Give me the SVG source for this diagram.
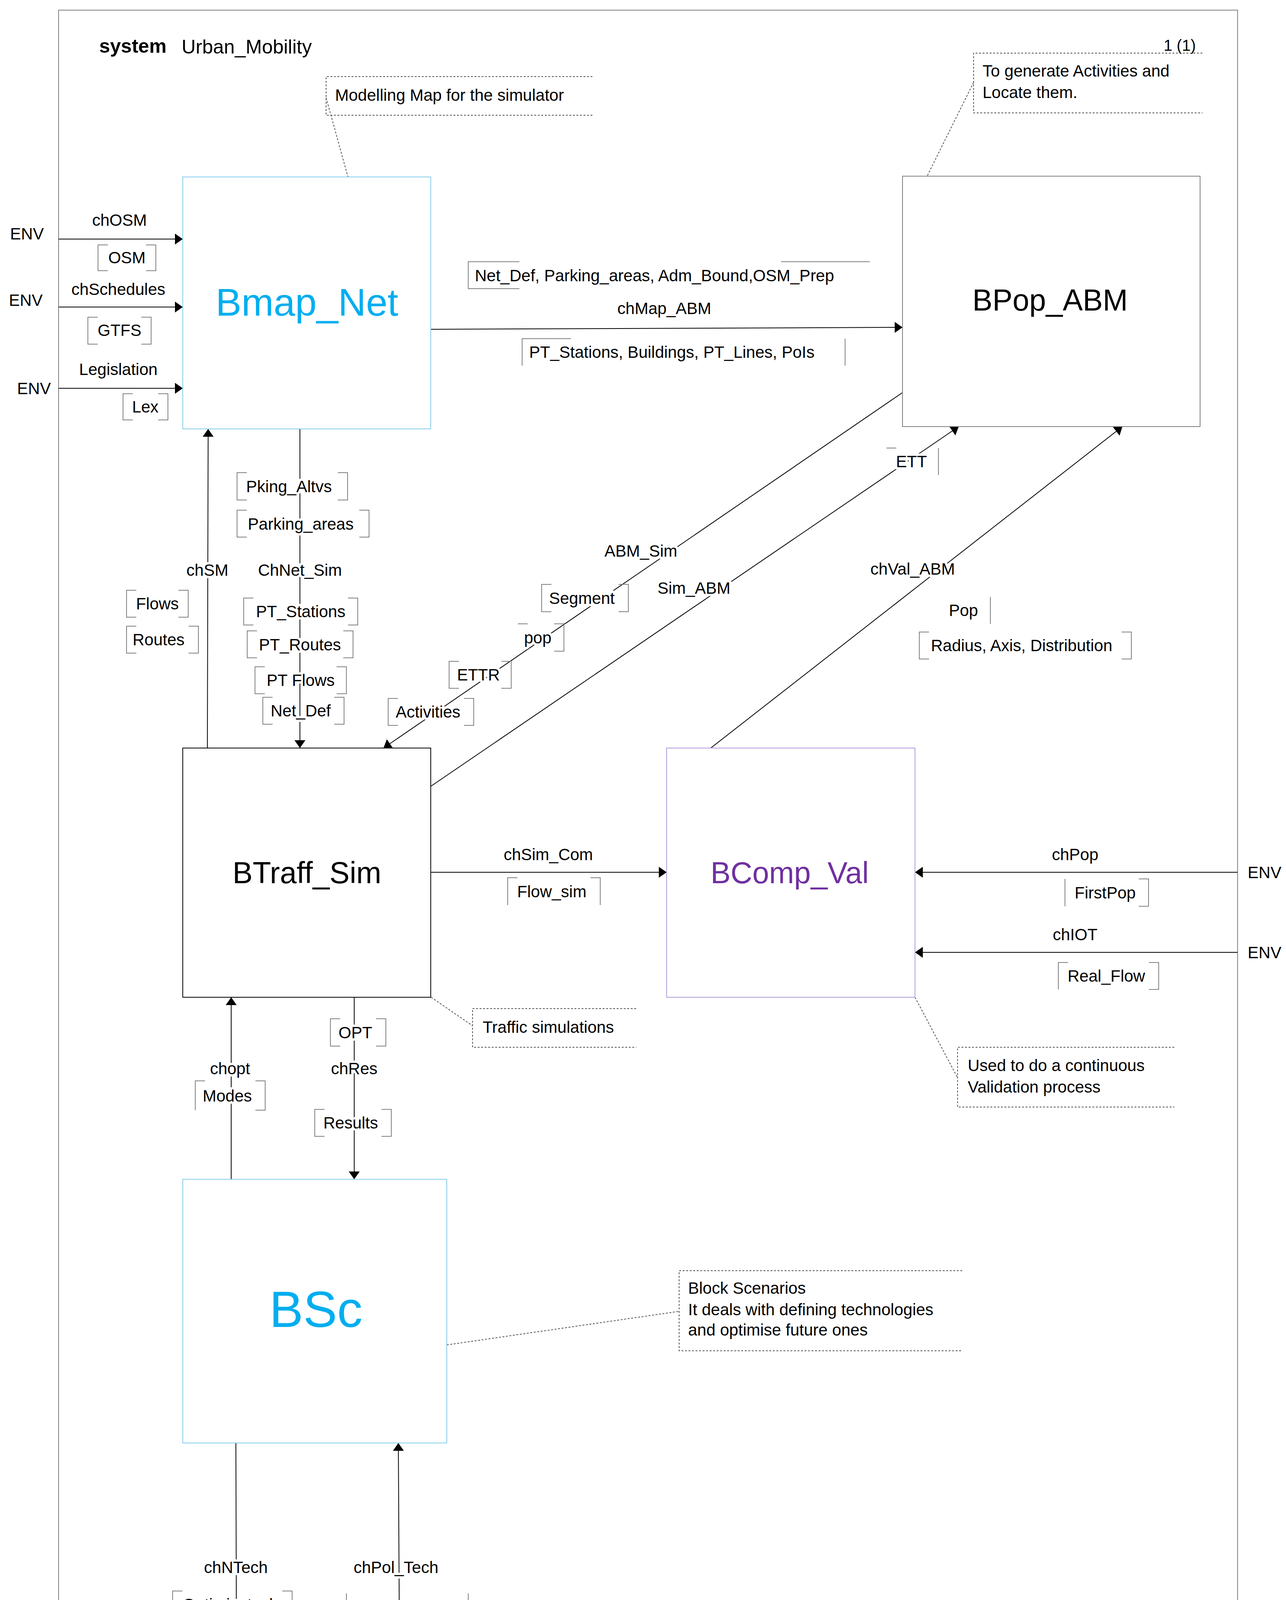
<svg xmlns="http://www.w3.org/2000/svg" width="3293" height="4520" viewBox="0 0 3293 4520">
<style>
text{font-family:"Liberation Sans",Arial,sans-serif;fill:#000}
.t{font-size:42px;paint-order:stroke;stroke:#fff;stroke-width:12px;stroke-linejoin:round}
.m{text-anchor:middle}
.c{fill:none;stroke:#000;stroke-width:2}
.sig{fill:none;stroke:#808080;stroke-width:2}
.note{fill:none;stroke:#555;stroke-width:2;stroke-dasharray:5 4}
.blk{font-size:77px;text-anchor:middle}
</style>
<defs>
<marker id="a" viewBox="0 0 20 28" refX="20" refY="14" markerWidth="20" markerHeight="28" markerUnits="userSpaceOnUse" orient="auto"><path d="M0 0L20 14L0 28Z" fill="#000"/></marker>
</defs>
<rect width="3293" height="4520" fill="#fff"/>
<rect x="150" y="26" width="3019" height="4402" fill="none" stroke="#808080" stroke-width="2"/>
<text x="254" y="135" font-size="50" font-weight="bold">system</text>
<text x="465" y="137" font-size="50">Urban_Mobility</text>
<text x="3062" y="130" font-size="40" text-anchor="end">1 (1)</text>

<g id="notes">
<path class="note" d="M1517 196H835V295H1517M835 250L891 453"/>
<text x="858" y="258" font-size="42">Modelling Map for the simulator</text>
<path class="note" d="M3079 136H2493V289H3079M2493 211L2374 451"/>
<text x="2516" y="196" font-size="42">To generate Activities and</text>
<text x="2516" y="251" font-size="42">Locate them.</text>
<path class="note" d="M1629 2582H1210V2681H1629M1104 2553L1210 2626"/>
<text x="1236" y="2644" font-size="42">Traffic simulations</text>
<path class="note" d="M3007 2681H2452V2834H3007M2343 2553L2452 2759"/>
<text x="2478" y="2742" font-size="42">Used to do a continuous</text>
<text x="2478" y="2797" font-size="42">Validation process</text>
<path class="note" d="M2464 3253H1739V3458H2464M1144 3443L1739 3357"/>
<text x="1762" y="3312" font-size="42">Block Scenarios</text>
<text x="1762" y="3367" font-size="42">It deals with defining technologies</text>
<text x="1762" y="3419" font-size="42"> and optimise future ones</text>
</g>

<g id="connectors">
<line class="c" x1="150" y1="612" x2="468" y2="612" marker-end="url(#a)"/>
<line class="c" x1="150" y1="786" x2="468" y2="786" marker-end="url(#a)"/>
<line class="c" x1="150" y1="994" x2="468" y2="994" marker-end="url(#a)"/>
<line class="c" x1="1103" y1="843" x2="2311" y2="838" marker-end="url(#a)"/>
<line class="c" x1="768" y1="1098" x2="768" y2="1915" marker-end="url(#a)"/>
<line class="c" x1="531" y1="1915" x2="533" y2="1098" marker-end="url(#a)"/>
<line class="c" x1="2311" y1="1005" x2="982" y2="1915" marker-end="url(#a)"/>
<line class="c" x1="1103" y1="2013" x2="2455" y2="1092" marker-end="url(#a)"/>
<line class="c" x1="1820" y1="1915" x2="2874" y2="1092" marker-end="url(#a)"/>
<line class="c" x1="1103" y1="2233" x2="1707" y2="2233" marker-end="url(#a)"/>
<line class="c" x1="3169" y1="2233" x2="2343" y2="2233" marker-end="url(#a)"/>
<line class="c" x1="3169" y1="2438" x2="2343" y2="2438" marker-end="url(#a)"/>
<line class="c" x1="592" y1="3019" x2="592" y2="2553" marker-end="url(#a)"/>
<line class="c" x1="907" y1="2553" x2="907" y2="3019" marker-end="url(#a)"/>
<line class="c" x1="604" y1="3694" x2="606" y2="4420" marker-end="url(#a)"/>
<line class="c" x1="1024" y1="4428" x2="1020" y2="3694" marker-end="url(#a)"/>

<path class="sig" d="M276 627H251V693H276M374 627H399V693H374"/>
<path class="sig" d="M250 812H225V881H250M362 812H387V881H362"/>
<path class="sig" d="M340 1008H315V1075H340M405 1008H430V1075H405"/>
<path class="sig" d="M1330 670H1199V739H1330M2000 670H2227"/>
<path class="sig" d="M1462 867H1337V936M2164 867V936"/>
<path class="sig" d="M632 1210H607V1280H632M865 1210H890V1280H865"/>
<path class="sig" d="M632 1306H607V1375H632M920 1306H945V1375H920"/>
<path class="sig" d="M649 1531H624V1600H649M891 1531H916V1600H891"/>
<path class="sig" d="M658 1615H633V1684H658M879 1615H904V1684H879"/>
<path class="sig" d="M678 1707H653V1776H678M862 1707H887V1776H862"/>
<path class="sig" d="M698 1785H673V1854H698M856 1785H881V1854H856"/>
<path class="sig" d="M349 1511H324V1580H349M457 1511H482V1580H457"/>
<path class="sig" d="M349 1603H324V1672H349M483 1603H508V1672H483"/>
<path class="sig" d="M1412 1496H1387V1566H1412M1584 1496H1609V1566H1584"/>
<path class="sig" d="M1351 1597H1326M1419 1597H1444V1667H1419"/>
<path class="sig" d="M1175 1693H1150V1762H1175M1284 1693H1309V1762H1284"/>
<path class="sig" d="M1019 1788H994V1857H1019M1188 1788H1213V1857H1188"/>
<path class="sig" d="M2295 1147H2270M2403 1147V1216"/>
<path class="sig" d="M2536 1528V1597"/>
<path class="sig" d="M2379 1618H2354V1687H2379M2872 1618H2897V1687H2872"/>
<path class="sig" d="M1325 2247H1300V2317M1512 2247H1537V2317"/>
<path class="sig" d="M2727 2250V2320M2916 2250H2941V2320H2916"/>
<path class="sig" d="M2735 2464H2710V2533M2942 2464H2967V2533H2942"/>
<path class="sig" d="M871 2608H846V2678H871M963 2608H988V2678H963"/>
<path class="sig" d="M525 2767H500V2842M654 2767H679V2842H654"/>
<path class="sig" d="M831 2840H806V2909H831M977 2909H1002V2840H977"/>
<path class="sig" d="M467 4073H442V4142H467M723 4073H748V4142H723"/>
<path class="sig" d="M887 4079V4148M1199 4079V4148H1174"/>

<text class="t m" x="325" y="674">OSM</text>
<text class="t m" x="306" y="860">GTFS</text>
<text class="t m" x="372" y="1056">Lex</text>
<text class="t" x="1216" y="720">Net_Def, Parking_areas, Adm_Bound,OSM_Prep</text>
<text class="t" x="1355" y="916">PT_Stations, Buildings, PT_Lines, PoIs</text>
<text class="t m" x="740" y="1260">Pking_Altvs</text>
<text class="t m" x="770" y="1356">Parking_areas</text>
<text class="t m" x="770" y="1580">PT_Stations</text>
<text class="t m" x="768" y="1665">PT_Routes</text>
<text class="t m" x="770" y="1756">PT Flows</text>
<text class="t m" x="770" y="1834">Net_Def</text>
<text class="t m" x="403" y="1560">Flows</text>
<text class="t m" x="406" y="1652">Routes</text>
<text class="t m" x="1490" y="1546">Segment</text>
<text class="t m" x="1377" y="1647">pop</text>
<text class="t m" x="1225" y="1742">ETTR</text>
<text class="t m" x="1096" y="1837">Activities</text>
<text class="t m" x="2334" y="1196">ETT</text>
<text class="t m" x="2467" y="1577">Pop</text>
<text class="t m" x="2616" y="1667">Radius, Axis, Distribution</text>
<text class="t m" x="1413" y="2297">Flow_sim</text>
<text class="t m" x="2830" y="2300">FirstPop</text>
<text class="t m" x="2833" y="2513">Real_Flow</text>
<text class="t m" x="910" y="2658">OPT</text>
<text class="t m" x="582" y="2820">Modes</text>
<text class="t m" x="898" y="2889">Results</text>
<text class="t m" x="590" y="4122">Optimiz_tech</text>
<text class="t m" x="1027" y="4128">Technologies</text>

<text class="t m" x="306" y="578">chOSM</text>
<text class="t m" x="303" y="755">chSchedules</text>
<text class="t m" x="303" y="960">Legislation</text>
<text class="t m" x="1701" y="804">chMap_ABM</text>
<text class="t m" x="768" y="1474">ChNet_Sim</text>
<text class="t m" x="531" y="1474">chSM</text>
<text class="t m" x="1641" y="1425">ABM_Sim</text>
<text class="t m" x="1777" y="1520">Sim_ABM</text>
<text class="t m" x="2337" y="1471">chVal_ABM</text>
<text class="t m" x="1404" y="2202">chSim_Com</text>
<text class="t m" x="2753" y="2202">chPop</text>
<text class="t m" x="2753" y="2407">chIOT</text>
<text class="t m" x="589" y="2750">chopt</text>
<text class="t m" x="907" y="2750">chRes</text>
<text class="t m" x="604" y="4027">chNTech</text>
<text class="t m" x="1014" y="4027">chPol_Tech</text>

<text class="t m" x="69" y="613">ENV</text>
<text class="t m" x="66" y="783">ENV</text>
<text class="t m" x="87" y="1009">ENV</text>
<text class="t m" x="3238" y="2248">ENV</text>
<text class="t m" x="3238" y="2453">ENV</text>
<text class="t m" x="601" y="4504">ENV</text>
<text class="t m" x="1014" y="4486">ENV</text>
</g>

<g id="Bmap_Net"><rect x="468" y="453" width="635" height="645" fill="none" stroke="#87CEEB" stroke-width="2"/><text class="blk" x="786" y="808" font-size="99" style="font-size:99px;fill:#00AEEF">Bmap_Net</text></g>
<g id="BPop_ABM"><rect x="2311" y="451" width="762" height="641" fill="none" stroke="#808080" stroke-width="2"/><text class="blk" x="2689" y="795">BPop_ABM</text></g>
<g id="BTraff_Sim"><rect x="468" y="1915" width="635" height="638" fill="none" stroke="#000" stroke-width="2"/><text class="blk" x="786" y="2261">BTraff_Sim</text></g>
<g id="BComp_Val"><rect x="1707" y="1915" width="636" height="638" fill="none" stroke="#B19CD9" stroke-width="2"/><text class="blk" x="2022" y="2261" style="fill:#7030A0">BComp_Val</text></g>
<g id="BSc"><rect x="468" y="3019" width="676" height="675" fill="none" stroke="#87CEEB" stroke-width="2"/><text class="blk" x="809" y="3397" style="font-size:130px;fill:#00AEEF">BSc</text></g>
</svg>
